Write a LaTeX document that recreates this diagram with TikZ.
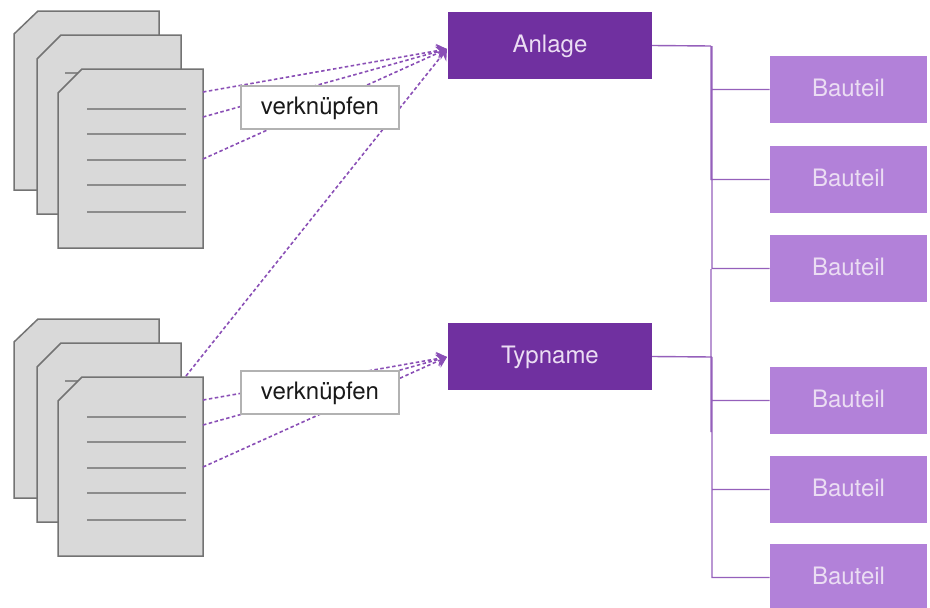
\documentclass[tikz,border=0pt]{standalone}
\usepackage{fontspec}
\setmainfont{TeX Gyre Heros}
\usetikzlibrary{arrows.meta}

\definecolor{darkpurple}{HTML}{7030A0}
\definecolor{lightpurple}{HTML}{B281D9}
\definecolor{palepurple}{HTML}{EBDDF3}
\definecolor{linkpurple}{HTML}{8A4FB6}
\definecolor{buspurple}{HTML}{7A38AA}

\tikzset{
    mainbox/.style = {fill = darkpurple, text = palepurple, minimum width = 204, minimum height = 67.5, inner sep = 0, text height = 19},
    partbox/.style = {fill = lightpurple, text = palepurple, minimum width = 157.5, minimum height = 67.5, inner sep = 0, text depth = 3},
    linkbox/.style = {draw = black!30, fill = white, text = black!90, line width = 1.2, minimum width = 158, minimum height = 43, inner sep = 0, text height = 19},
    pagebox/.style = {draw = black!55, fill = black!15, line width = 1.5},
    textline/.style = {draw = black!45, line width = 1.3},
    linkline/.style = {color = linkpurple, line width = 1.6, dash pattern = on 3.5 off 2.5, -{Stealth[length = 10, width = 14]}},
    busline/.style = {color = buspurple, line width = 1.4, opacity = 0.8},
}

\begin{document}
\begin{tikzpicture}[x = 1pt, y = -1pt, font = \fontsize{24}{28}\selectfont]
    \clip (0, 0) rectangle (930, 608);

    % both stacks of pages
    \foreach \off in {0, 308} {
        \begin{scope}[yshift = -\off]
            \draw[pagebox] (14, 34) -- (38, 11) -- (159, 11) -- (159, 190) -- (14, 190) -- cycle;
            \draw[pagebox] (37, 59) -- (61, 35) -- (181, 35) -- (181, 214) -- (37, 214) -- cycle;
            \draw[textline] (65, 73) -- (82, 73);
            \draw[pagebox] (58, 93) -- (82, 69) -- (203, 69) -- (203, 248) -- (58, 248) -- cycle;
            \foreach \y in {109, 134, 160, 185, 212}
                \draw[textline] (87, \y) -- (186, \y);
        \end{scope}
    }

    \draw
        (550, 45.5) node (anlage) [mainbox] {Anlage}
        (550, 356.5) node (typname) [mainbox] {Typname}

        (848.5, 89.5) node (bauteila) [partbox] {Bauteil}
        (848.5, 179.5) node (bauteilb) [partbox] {Bauteil}
        (848.5, 268.5) node (bauteilc) [partbox] {Bauteil}
        (848.5, 400.5) node (bauteild) [partbox] {Bauteil}
        (848.5, 489.5) node (bauteile) [partbox] {Bauteil}
        (848.5, 577.5) node (bauteilf) [partbox] {Bauteil}
    ;

    \coordinate (busa) at (711, 46);
    \coordinate (busb) at (712, 357);
    \coordinate (busend) at (711, 432);
    \coordinate (busmid) at (711, 269);

    \draw[busline]
        (anlage.east) -- (busa)
        (busa) |- (bauteila.west)
        (busa) |- (bauteilb.west)
        (busa -| busb) |- (bauteilc.west)
        (busmid) -- (busend)
        (typname.east) -- (busb)
        (busb) |- (bauteild.west)
        (busb) |- (bauteile.west)
        (busb) |- (bauteilf.west)
    ;

    % ends of the dashed links
    \coordinate (inanlage) at (447, 49);
    \coordinate (intypname) at (447, 357);
    \coordinate (pagea) at (203, 92);
    \coordinate (pageb) at (203, 117);
    \coordinate (pagec) at (203, 159);
    \coordinate (paged) at (186, 376);
    \coordinate (pagee) at (203, 400);
    \coordinate (pagef) at (203, 425);
    \coordinate (pageg) at (203, 467);

    \draw[linkline] (pagea) -- (inanlage);
    \draw[linkline] (pageb) -- (inanlage);
    \draw[linkline] (pagec) -- (inanlage);
    \draw[linkline] (paged) -- (inanlage);
    \draw[linkline] (pagee) -- (intypname);
    \draw[linkline] (pagef) -- (intypname);
    \draw[linkline] (pageg) -- (intypname);

    \draw
        (320, 107.5) node (linktop) [linkbox] {verknüpfen}
        (320, 392.5) node (linkbottom) [linkbox] {verknüpfen}
    ;
\end{tikzpicture}
\end{document}
